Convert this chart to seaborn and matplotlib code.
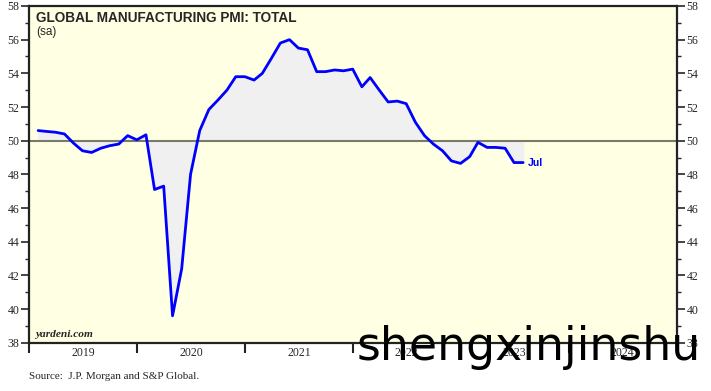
import matplotlib
matplotlib.use("Agg")
import matplotlib.pyplot as plt
from matplotlib.ticker import MultipleLocator
import pandas as pd
import seaborn as sns

sns.set_style("ticks")
plt.rcParams["font.family"] = ["Liberation Serif", "DejaVu Serif"]

# Global manufacturing PMI, Jan 2019 .. Jul 2023 (monthly)
START_MONTH = "2019-01-31"
PMI = [
    50.6, 50.55, 50.5, 50.4, 49.85, 49.4, 49.3, 49.55, 49.7, 49.8, 50.3, 50.05,
    50.35, 47.1, 47.3, 39.6, 42.4, 48.0, 50.6, 51.85, 52.4, 53.0, 53.8, 53.8,
    53.6, 54.0, 54.9, 55.8, 56.0, 55.5, 55.4, 54.1, 54.1, 54.2, 54.15, 54.25,
    53.2, 53.75, 53.0, 52.3, 52.35, 52.2, 51.1, 50.3, 49.8, 49.4, 48.8, 48.65,
    49.05, 49.9, 49.6, 49.6, 49.55, 48.7, 48.7,
]
YEARS = [2019, 2020, 2021, 2022, 2023, 2024]
LAST_LABEL = "Jul"

BG = "#ffffe3"
FILL = "#f0f0f0"
LINE = "#0000ff"

df = pd.DataFrame({
    "date": pd.date_range(START_MONTH, periods=len(PMI), freq="ME"),
    "pmi": PMI,
})

fig = plt.figure(figsize=(7.11, 3.91), dpi=100)
ax = fig.add_axes([0.0412, 0.1235, 0.9106, 0.8612])
ax.set_facecolor(BG)

ax.fill_between(df["date"], df["pmi"], 50, color=FILL, zorder=1)
ax.axhline(50, color="#7a7a6a", linewidth=1.5, zorder=2)
sns.lineplot(data=df, x="date", y="pmi", color=LINE, linewidth=2, ax=ax, zorder=3)

ax.set_ylim(38, 58)
ax.set_xlim(pd.Timestamp("2019-01-01"), pd.Timestamp("2025-01-01"))
ax.set_xlabel("")
ax.set_ylabel("")

# year boundaries as ticks, labels centred in each year
ax.set_xticks([pd.Timestamp(f"{y}-01-01") for y in YEARS + [2025]])
ax.set_xticklabels([])
ax.set_xticks([pd.Timestamp(f"{y}-07-02") for y in YEARS], minor=True)
ax.set_xticklabels([str(y) for y in YEARS], minor=True)
ax.tick_params(axis="x", which="major", length=7, width=1.5, direction="out", color="#222222")
ax.tick_params(axis="x", which="minor", length=0, labelsize=8.5, pad=3)

ax.yaxis.set_major_locator(MultipleLocator(2))
ax.yaxis.set_minor_locator(MultipleLocator(1))
ax.tick_params(axis="y", which="major", length=6, width=1.2, labelsize=8.5,
               left=True, right=True, labelleft=True, labelright=True, pad=1)
ax.tick_params(axis="y", which="minor", length=3, width=1, left=True, right=True)

for side in ["left", "right", "top", "bottom"]:
    ax.spines[side].set_color("#222222")
    ax.spines[side].set_linewidth(1.6)

ax.text(0.011, 0.985, "GLOBAL MANUFACTURING PMI: TOTAL", transform=ax.transAxes,
        family=["Liberation Sans", "DejaVu Sans"], fontweight="bold", fontsize=9.8,
        va="top", ha="left")
ax.text(0.011, 0.94, "(sa)", transform=ax.transAxes,
        family=["Liberation Sans", "DejaVu Sans"], fontsize=8.5, va="top", ha="left")
ax.text(0.009, 0.012, "yardeni.com", transform=ax.transAxes, fontweight="bold",
        style="italic", fontsize=8.2, va="bottom", ha="left")

last = df.iloc[-1]
ax.annotate(LAST_LABEL, (last["date"], last["pmi"]), xytext=(3, 0),
            textcoords="offset points", va="center", ha="left", color=LINE,
            family=["Liberation Sans", "DejaVu Sans"], fontweight="bold", fontsize=7.5)

fig.text(0.041, 0.038, "Source:  J.P. Morgan and S&P Global.", fontsize=8,
         va="center", ha="left")
fig.text(0.502, 0.079, "shengxinjinshu", family=["DejaVu Sans"], fontsize=33,
         color="black", va="baseline", ha="left")

fig.savefig("out.png", dpi=100)
